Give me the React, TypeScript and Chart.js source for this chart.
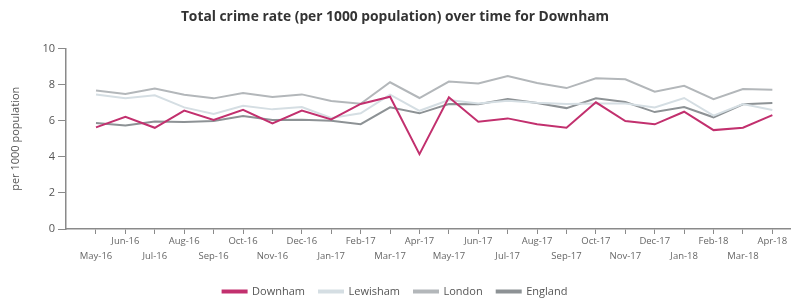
import React, { useEffect, useRef } from "react";
import { Chart, registerables } from "chart.js";

Chart.register(...registerables);

const months = [
  "May-16", "Jun-16", "Jul-16", "Aug-16", "Sep-16", "Oct-16", "Nov-16", "Dec-16",
  "Jan-17", "Feb-17", "Mar-17", "Apr-17", "May-17", "Jun-17", "Jul-17", "Aug-17",
  "Sep-17", "Oct-17", "Nov-17", "Dec-17", "Jan-18", "Feb-18", "Mar-18", "Apr-18",
];

const downham = [5.63, 6.22, 5.61, 6.56, 6.04, 6.61, 5.85, 6.56, 6.07, 6.93, 7.33, 4.15, 7.3, 5.94, 6.13, 5.8, 5.61, 7.02, 5.98, 5.8, 6.5, 5.48, 5.61, 6.31];
const lewisham = [7.46, 7.24, 7.41, 6.74, 6.37, 6.83, 6.63, 6.76, 6.15, 6.41, 7.45, 6.55, 7.15, 6.96, 7.11, 7.0, 6.93, 6.96, 6.96, 6.74, 7.26, 6.28, 6.93, 6.59];
const london = [7.67, 7.48, 7.78, 7.44, 7.24, 7.54, 7.31, 7.46, 7.09, 6.94, 8.13, 7.26, 8.17, 8.06, 8.48, 8.09, 7.81, 8.35, 8.3, 7.61, 7.94, 7.19, 7.76, 7.72];
const england = [5.87, 5.74, 5.96, 5.93, 5.98, 6.26, 6.04, 6.06, 6.0, 5.81, 6.74, 6.41, 6.93, 6.91, 7.2, 6.98, 6.7, 7.24, 7.04, 6.48, 6.76, 6.19, 6.91, 6.98];

const yTicks = [0, 2, 4, 6, 8, 10];

const seriesNames = ["Downham", "Lewisham", "London", "England"];
const seriesColors = ["#c2306e", "#d5dee3", "#b3b7ba", "#8d9295"];

export default function App() {
  const ref = useRef<HTMLCanvasElement | null>(null);

  useEffect(() => {
    if (!ref.current) return;
    const allSeries = [downham, lewisham, london, england];
    const font = "'Open Sans', 'DejaVu Sans', sans-serif";
    const axisColor = "#8a8a8a";
    const chart = new Chart(ref.current, {
      type: "line",
      data: {
        datasets: allSeries.map((s, k) => ({
          label: seriesNames[k],
          data: s.map((v, i) => ({ x: i, y: v })),
          borderColor: seriesColors[k],
          backgroundColor: seriesColors[k],
          borderWidth: 2,
          pointRadius: 0,
          tension: 0,
        })),
      },
      options: {
        animation: false,
        responsive: false,
        maintainAspectRatio: false,
        layout: { padding: { left: 0, right: 1, top: 0, bottom: -5 } },
        plugins: {
          title: {
            display: true,
            text: "Total crime rate (per 1000 population) over time for Downham",
            color: "#333333",
            font: { family: font, size: 13.8, weight: "bold" },
            padding: { top: 9, bottom: 23 },
          },
          legend: {
            position: "bottom",
            labels: {
              color: "#555555",
              font: { family: font, size: 11 },
              boxWidth: 24,
              boxHeight: 2,
              padding: 14,
            },
          },
          tooltip: { enabled: false },
        },
        scales: {
          x: {
            type: "linear",
            min: -1.02,
            max: 23.6,
            afterBuildTicks: (scale: any) => {
              scale.ticks = months.map((_, i) => ({ value: i }));
            },
            afterFit: (scale: any) => {
              scale.height = 43;
            },
            ticks: {
              autoSkip: false,
              maxRotation: 0,
              minRotation: 0,
              color: "#666666",
              font: { family: font, size: 9.5, lineHeight: 1.55 },
              padding: 0,
              callback: (value: any) => {
                const i = Math.round(Number(value));
                const lab = months[i];
                if (lab === undefined) return "";
                return i % 2 === 0 ? ["", lab] : lab;
              },
            },
            grid: {
              display: true,
              drawOnChartArea: false,
              drawTicks: true,
              tickLength: 5,
              color: axisColor,
              lineWidth: 1,
            },
            border: { display: true, color: axisColor, width: 1.5 },
          },
          y: {
            min: 0,
            max: 10,
            afterBuildTicks: (scale: any) => {
              scale.ticks = yTicks.map((v) => ({ value: v }));
            },
            afterFit: (scale: any) => {
              scale.width = 66;
            },
            ticks: {
              color: "#555555",
              font: { family: font, size: 11 },
              padding: 3,
            },
            title: {
              display: true,
              text: "per 1000 population",
              color: "#555555",
              font: { family: font, size: 11 },
              padding: { top: 9, bottom: 0 },
            },
            grid: {
              display: true,
              drawOnChartArea: false,
              drawTicks: true,
              tickLength: 8,
              color: axisColor,
              lineWidth: 1,
            },
            border: { display: true, color: axisColor, width: 1.5 },
          },
        },
      },
    });
    return () => chart.destroy();
  }, []);

  return (
    <div style={{ position: "fixed", left: 0, top: 0, width: 791, height: 302, background: "#ffffff" }}>
      <canvas ref={ref} width={791} height={302} style={{ width: 791, height: 302 }} />
    </div>
  );
}
